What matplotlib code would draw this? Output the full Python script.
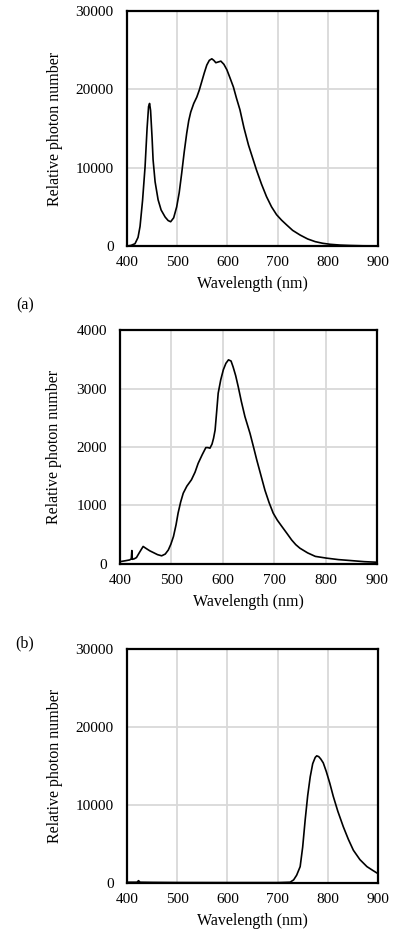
import matplotlib
matplotlib.use('Agg')
import matplotlib.pyplot as plt

plt.rcParams['font.family'] = ['Liberation Serif', 'DejaVu Serif']

# (a) white LED spectrum
wl_a = [400, 408, 416, 422, 426, 431, 436, 440, 443, 445, 447, 450, 452, 456,
        462, 468, 476, 482, 487, 493, 499, 504, 509, 514, 519, 523, 527, 533,
        539, 544, 549, 554, 559, 564, 569, 573, 577, 582, 587, 593, 599, 605,
        612, 618, 625, 633, 642, 650, 658, 668, 678, 688, 698, 708, 718, 730,
        745, 760, 775, 790, 805, 825, 845, 870, 900]
ph_a = [0, 80, 300, 1100, 2500, 5800, 10100, 15000, 17800, 18200, 17300, 13800, 11000, 8200,
        5900, 4600, 3700, 3250, 3100, 3600, 5000, 6800, 9300, 12000, 14400, 16000, 17100, 18200,
        19000, 19900, 21000, 22100, 23100, 23700, 23900, 23700, 23400, 23500, 23600, 23200, 22500, 21500,
        20300, 18900, 17400, 15100, 12900, 11300, 9700, 7900, 6300, 5000, 4000, 3300, 2700, 2000,
        1400, 900, 560, 350, 220, 120, 70, 30, 15]

# (b) spectrum
wl_b = [400, 410, 419, 422, 423, 424, 428, 432, 438, 445, 450, 458, 465, 473,
        481, 488, 494, 499, 504, 509, 513, 518, 523, 530, 539, 546, 552, 560,
        567, 571, 575, 579, 582, 585, 588, 591, 596, 601, 606, 611, 616, 620,
        625, 630, 636, 643, 653, 660, 666, 674, 682, 690, 698, 706, 715, 725,
        734, 742, 750, 765, 780, 802, 825, 847, 875, 900]
ph_b = [40, 55, 70, 90, 230, 80, 90, 110, 200, 300, 270, 225, 195, 160,
        140, 170, 240, 340, 470, 670, 870, 1060, 1210, 1330, 1440, 1570, 1720, 1870,
        1990, 1990, 1980, 2050, 2150, 2290, 2600, 2920, 3150, 3320, 3430, 3490, 3470, 3370,
        3220, 3030, 2780, 2520, 2230, 1990, 1780, 1520, 1260, 1050, 870, 750, 640, 520,
        410, 330, 270, 190, 130, 100, 75, 60, 40, 30]

# (c) near-infrared spectrum
wl_c = [400, 420, 423, 426, 450, 500, 600, 700, 725, 732, 738, 745, 750, 755,
        760, 765, 770, 775, 778, 782, 786, 791, 797, 804, 811, 820, 831, 841,
        851, 864, 878, 890, 900]
ph_c = [100, 100, 300, 100, 80, 60, 50, 50, 100, 400, 1000, 2100, 4600, 8100,
        11200, 13600, 15300, 16100, 16300, 16200, 15900, 15400, 14300, 12800, 11100, 9200, 7200, 5600,
        4200, 3000, 2100, 1600, 1200]

panels = [
    (wl_a, ph_a, 30000, [0, 10000, 20000, 30000], [0.3223, 0.7363, 0.637, 0.2519], -0.255, '(a)', 305),
    (wl_b, ph_b, 4000, [0, 1000, 2000, 3000, 4000], [0.3046, 0.3955, 0.6523, 0.2508], -0.225, '(b)', 643),
    (wl_c, ph_c, 30000, [0, 10000, 20000, 30000], [0.3223, 0.0536, 0.637, 0.2508], -0.255, None, None),
]

fig = plt.figure(figsize=(3.94, 9.33), dpi=100)

for wl, ph, ymax, yt, pos, lab_x, tag, tag_y in panels:
    ax = fig.add_axes(pos)
    ax.plot(wl, ph, color='black', lw=1.2, zorder=3)
    ax.set_xlim(400, 900)
    ax.set_ylim(0, ymax)
    ax.set_xticks([400, 500, 600, 700, 800, 900])
    ax.set_yticks(yt)
    ax.grid(True, color='#d9d9d9', lw=1.3)
    ax.set_axisbelow(True)
    ax.tick_params(length=0, labelsize=11)
    ax.tick_params(axis='x', pad=7.5)
    ax.tick_params(axis='y', pad=9.5)
    for s in ax.spines.values():
        s.set_linewidth(1.6)
        s.set_color('black')
    ax.set_xlabel('Wavelength (nm)', fontsize=11.5, labelpad=5)
    ax.set_ylabel('Relative photon number', fontsize=11.5)
    ax.yaxis.set_label_coords(lab_x, 0.5)
    if tag:
        fig.text(25 / 394, 1 - tag_y / 933, tag, fontsize=11.5, ha='center', va='center')

fig.savefig('out.png', dpi=100)
